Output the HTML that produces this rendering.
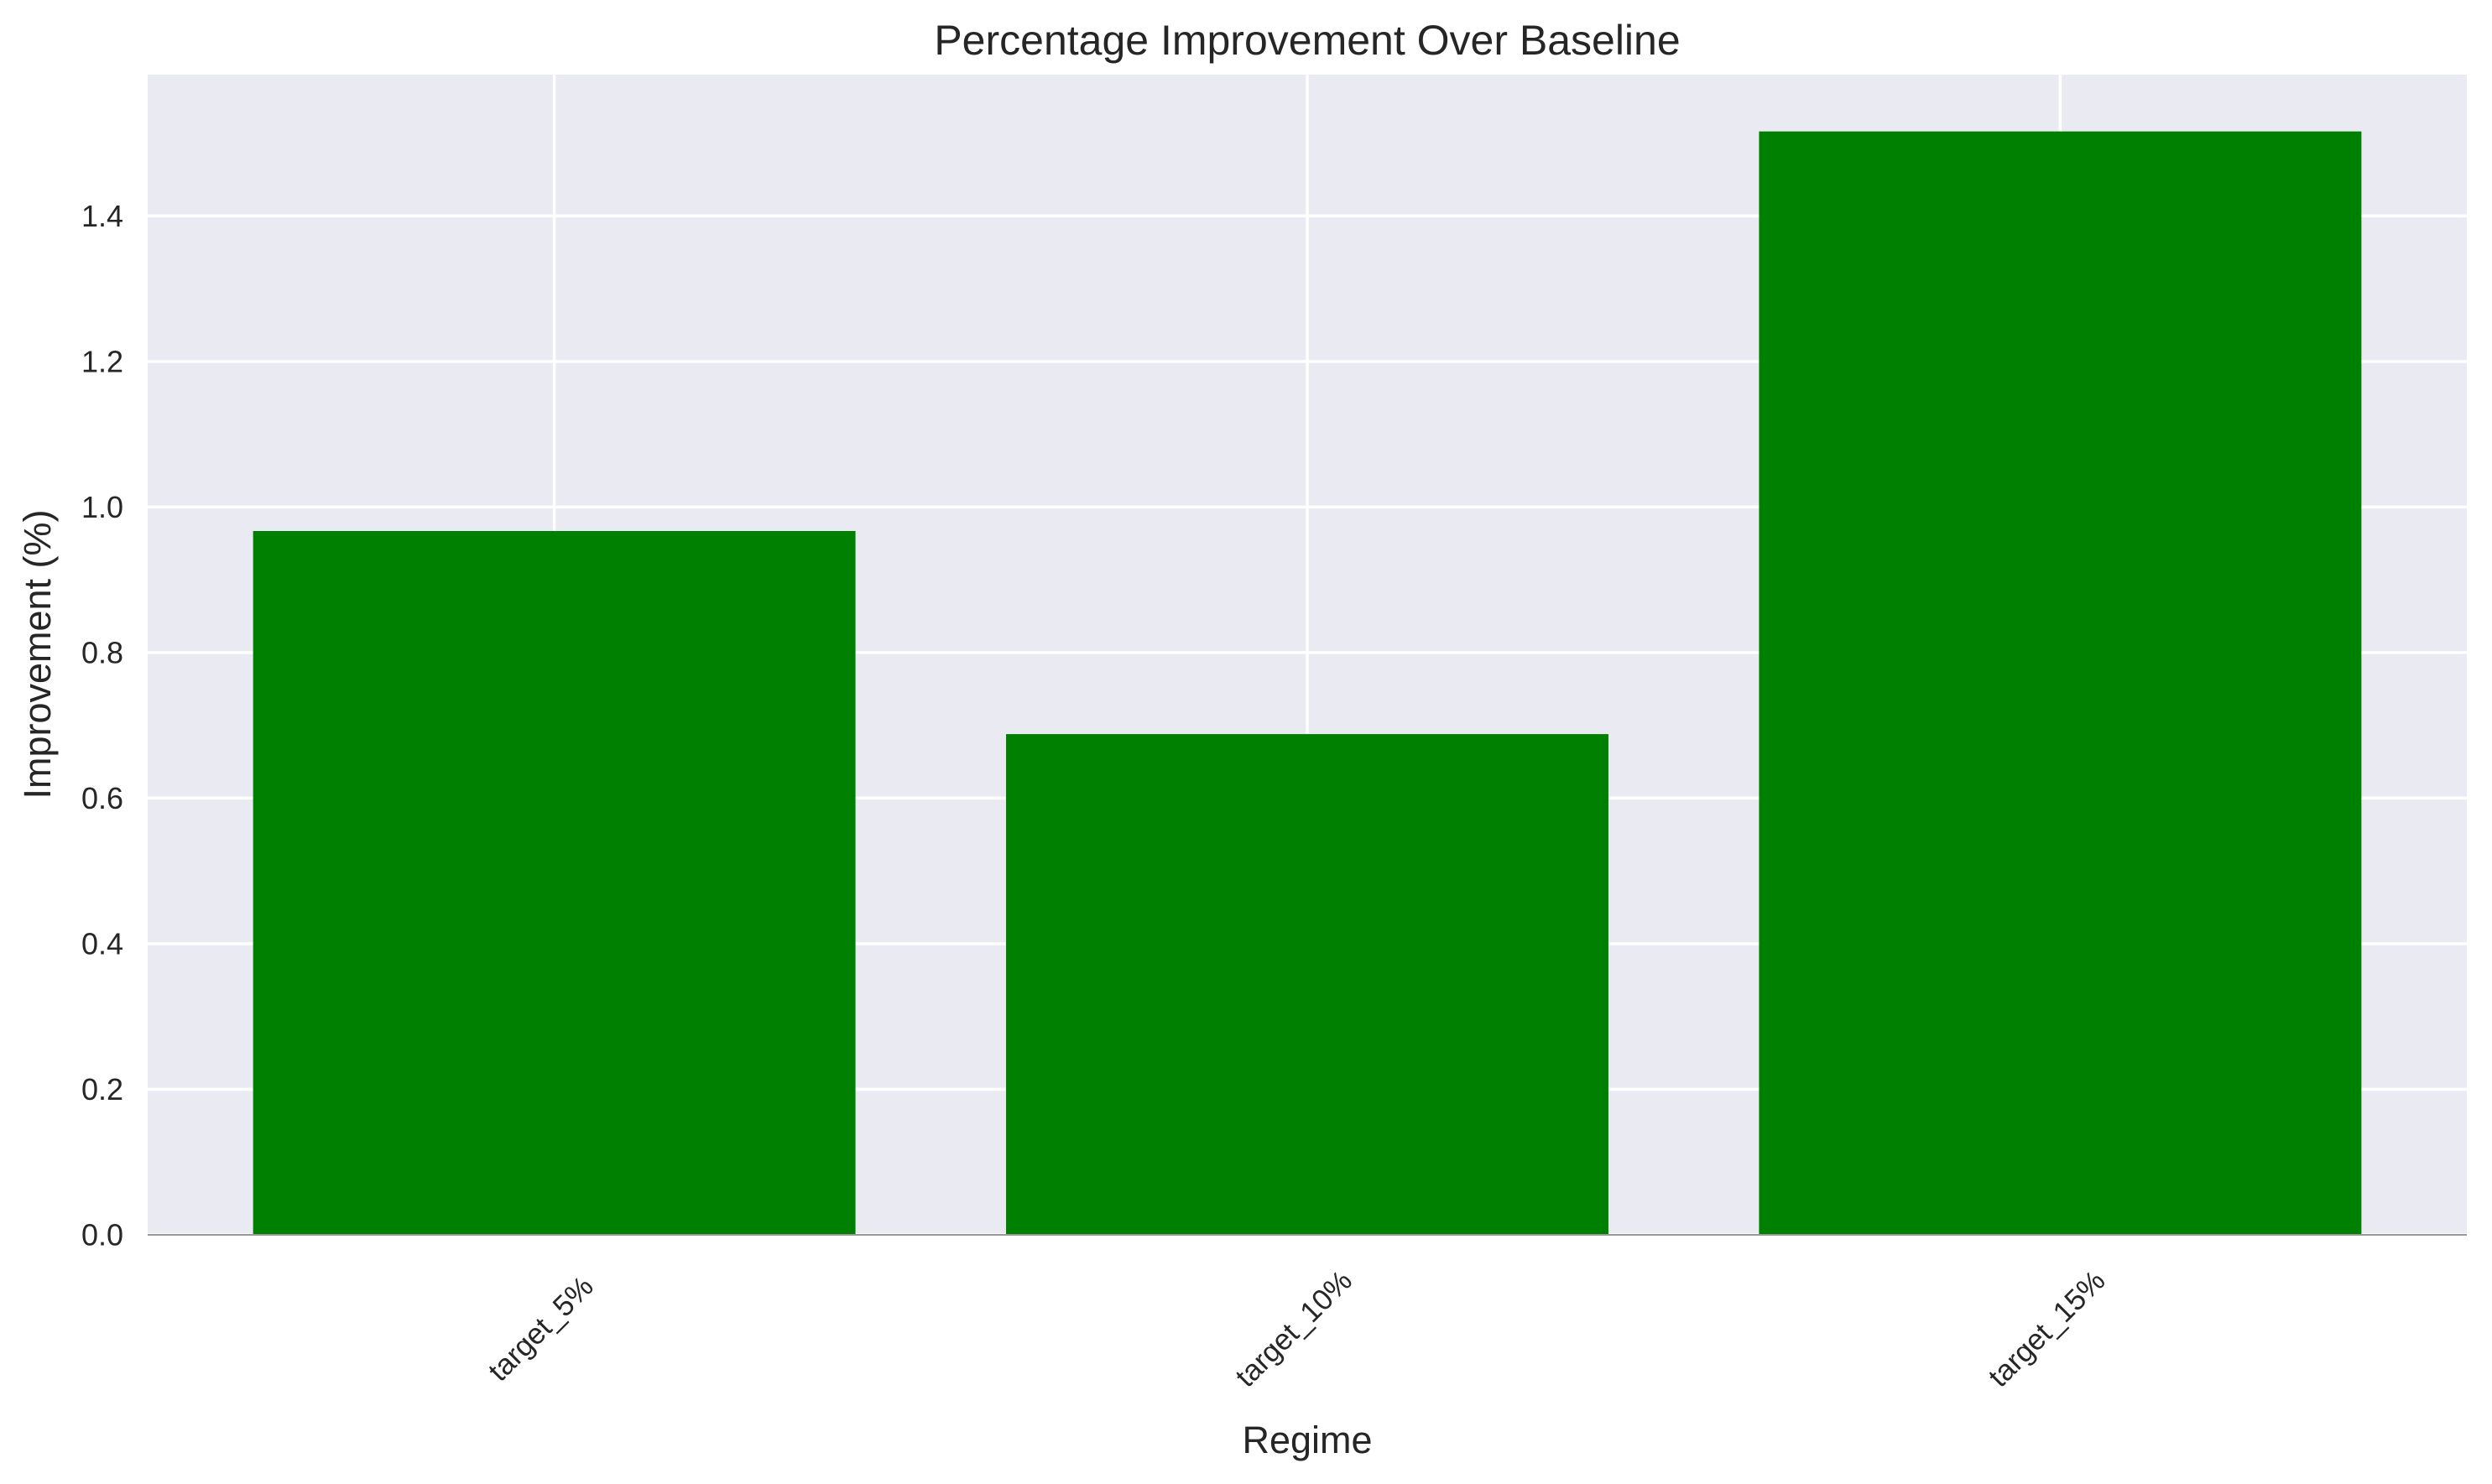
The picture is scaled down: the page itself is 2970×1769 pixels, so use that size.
<!DOCTYPE html>
<html><head><meta charset="utf-8"><style>
html,body{margin:0;padding:0;background:#fff;}
svg{display:block;font-family:"Liberation Sans",Arial,sans-serif;}
</style></head><body>
<svg id="chart" width="2970" height="1769" viewBox="0 0 2970 1769">
<rect x="0" y="0" width="2970" height="1769" fill="#fff"/>
<rect x="176" y="89" width="2764" height="1383" fill="#eaeaf2"/>
<g id="grid"></g>
<g id="bars"></g>
<g id="ticks"></g>
<text x="1558" y="65" font-size="50" text-anchor="middle" fill="#262626">Percentage Improvement Over Baseline</text>
<text x="1558" y="1732" font-size="45" text-anchor="middle" fill="#262626">Regime</text>
<text x="0" y="0" font-size="45" text-anchor="middle" fill="#262626" transform="translate(60,780) rotate(-90)">Improvement (%)</text>
</svg>
<script>
const categories = ["target_5%", "target_10%", "target_15%"];
const values = [0.967, 0.688, 1.516];
const yTicks = [0, 0.2, 0.4, 0.6, 0.8, 1.0, 1.2, 1.4];
const yTickLabels = ["0.0", "0.2", "0.4", "0.6", "0.8", "1.0", "1.2", "1.4"];

const L = 176, R = 2940, T = 89, B = 1472;
const yMin = 0, yMax = 1.594;
const xMin = -0.54, xMax = 2.54;
const barW = 0.8;
const NS = "http://www.w3.org/2000/svg";
function sx(v){ return L + (v - xMin) / (xMax - xMin) * (R - L); }
function sy(v){ return B - (v - yMin) / (yMax - yMin) * (B - T); }
function mk(tag, attrs, parent){
  const e = document.createElementNS(NS, tag);
  for (const k in attrs) e.setAttribute(k, attrs[k]);
  parent.appendChild(e);
  return e;
}
const grid = document.getElementById('grid');
const bars = document.getElementById('bars');
const ticks = document.getElementById('ticks');

yTicks.forEach((t, i) => {
  const y = sy(t);
  const gl = mk('line', {x1: L, x2: R, y1: y, y2: y, stroke: '#fff', 'stroke-width': 3.5}, grid);
  
  
  const tl = mk('text', {x: 147, y: y, 'font-size': 36, 'text-anchor': 'end', 'dominant-baseline': 'central', fill: '#262626'}, ticks);
  tl.textContent = yTickLabels[i];
  
  
});
categories.forEach((c, i) => {
  const x = sx(i);
  const gl = mk('line', {x1: x, x2: x, y1: T, y2: B, stroke: '#fff', 'stroke-width': 3.5}, grid);
  
  
  const y0 = sy(0), y1 = sy(values[i]);
  const b = mk('rect', {x: sx(i - barW/2), y: y1, width: sx(i + barW/2) - sx(i - barW/2), height: y0 - y1, fill: '#008000'}, bars);
  
  
  const tl = mk('text', {x: 0, y: 0, 'font-size': 35, 'text-anchor': 'middle', 'dominant-baseline': 'central', fill: '#262626', transform: 'translate(' + (x - 16) + ',1584) rotate(-45)'}, ticks);
  tl.textContent = c;
  
  
});
const zl = mk('line', {x1: L, x2: R, y1: sy(0), y2: sy(0), stroke: '#999', 'stroke-width': 2}, bars);


</script>
</body></html>
